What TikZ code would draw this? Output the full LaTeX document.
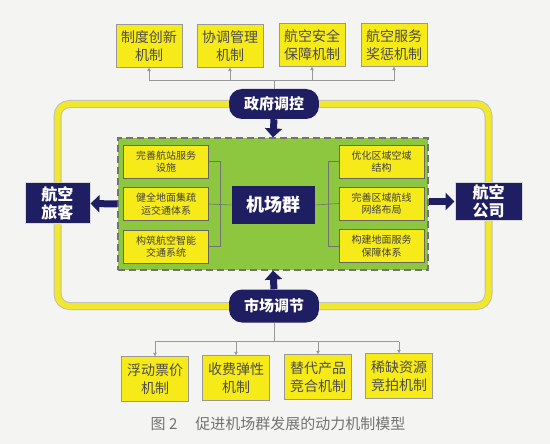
\documentclass[tikz,border=0pt]{standalone}
\usepackage{fontspec}
\setmainfont{Noto Sans CJK SC}
\usepackage{tikz}
\usetikzlibrary{arrows.meta}
\definecolor{navy}{RGB}{32,30,98}
\definecolor{boxyellow}{RGB}{246,234,24}
\definecolor{ringyellow}{RGB}{240,232,40}
\definecolor{hubgreen}{RGB}{141,198,63}
\definecolor{paper}{RGB}{244,244,242}

\begin{document}
\begin{tikzpicture}[x=1pt, y=-1pt,
  mech/.style={draw=black!40, fill=boxyellow, minimum width=66pt, minimum height=43pt, inner sep=1pt, align=center, text=black!70, font=\fontsize{14}{17.5}\selectfont},
  measure/.style={draw=black!60, fill=boxyellow, minimum width=85pt, minimum height=33pt, inner sep=1pt, align=center, text=black!75, font=\fontsize{10}{12.5}\selectfont},
  actor/.style={draw=black!15, line width=1pt, fill=navy, text=white, align=center, inner sep=1pt, font=\bfseries\fontsize{16}{17.5}\selectfont},
  pill/.style={fill=navy, text=white, rounded corners=13pt, minimum width=90pt, inner sep=1pt, font=\bfseries\fontsize{15}{18}\selectfont},
  link/.style={draw=black!40, line width=0.8pt},
  bracket/.style={draw=black!55, line width=0.6pt},
  tip/.style={-{Triangle[length=3.5pt,width=3.5pt]}},
  bigarrow/.style={navy, line width=7pt, -{Triangle[length=9pt,width=17pt]}},
  ring/.style={draw=black!25, line width=1pt, double=ringyellow, double distance=6pt, rounded corners=12pt}
]
\fill[paper] (0,0) rectangle (550,444);
\useasboundingbox (0,0) rectangle (550,444);

\node[mech] (t1) at (149,46) {制度创新\\机制};
\node[mech] (t2) at (230,46) {协调管理\\机制};
\node[mech] (t3) at (312,45) {航空安全\\保障机制};
\node[mech] (t4) at (394,45) {航空服务\\奖惩机制};

\node[pill, minimum height=30pt] (gov) at (274,104) {政府调控};
\node[pill, minimum height=33pt] (mkt) at (274,306) {市场调节};

\node[fill=hubgreen, draw=black!55, line width=1.2pt, dash pattern=on 7pt off 4pt, minimum width=310pt, minimum height=132pt] (group) at (273,204) {};

\node[measure] (l1) at (166,161.5) {完善航站服务\\设施};
\node[measure] (l2) at (166,204) {健全地面集疏\\运交通体系};
\node[measure] (l3) at (166,246.5) {构筑航空智能\\交通系统};
\node[measure] (r1) at (381.5,161.5) {优化区域空域\\结构};
\node[measure] (r2) at (381.5,203.5) {完善区域航线\\网络布局};
\node[measure] (r3) at (381.5,246) {构建地面服务\\保障体系};
\node[actor, draw=none, minimum width=83pt, minimum height=38pt, font=\bfseries\fontsize{18}{20}\selectfont] (hub) at (273.5,205) {机场群};

\node[actor, minimum width=65pt, minimum height=41pt] (pass) at (57.5,203.5) {航空\\旅客};
\node[actor, minimum width=67pt, minimum height=38pt] (air) at (488.5,201.5) {航空\\公司};

\node[mech, minimum height=45pt, minimum width=67pt] (b1) at (155,379) {浮动票价\\机制};
\node[mech, minimum height=45pt, minimum width=67pt] (b2) at (236,378) {收费弹性\\机制};
\node[mech, minimum height=45pt, minimum width=67pt] (b3) at (318,377) {替代产品\\竞合机制};
\node[mech, minimum height=45pt, minimum width=67pt] (b4) at (399,376) {稀缺资源\\竞拍机制};

\node[text=black!55, font=\fontsize{15}{18}\selectfont] (cap) at (278,424) {图 2\hspace{1.2em}促进机场群发展的动力机制模型};

\draw[ring] (gov.west) -| (pass.north);
\draw[ring] (pass.south) |- (mkt.west);
\draw[ring] (gov.east) -| (air.north);
\draw[ring] (air.south) |- (mkt.east);

\draw[link] (gov.north) -- ++(0,-8) coordinate (tbus);
\draw[link] (t1.south |- tbus) -- (t4.south |- tbus);
\foreach \m in {t1,t2,t3,t4}
  \draw[link, tip] (\m.south |- tbus) -- (\m.south);
\draw[link] (mkt.south) -- ++(0,19) coordinate (bbus);
\draw[link] (b1.north |- bbus) -- (b4.north |- bbus);
\foreach \m in {b1,b2,b3,b4}
  \draw[link, tip] (\m.north |- bbus) -- (\m.north);

\draw[bracket] (l1.east) -- ++(12,0) |- (l3.east);
\draw[bracket] (l2.east) -- (hub.west);
\draw[bracket] (r1.west) -- ++(-11,0) |- (r3.west);
\draw[bracket] (r2.west) -- (hub.east);

\draw[bigarrow] (gov.south) -- (group.north);
\draw[bigarrow] (mkt.north) -- (group.south);
\draw[bigarrow] (group.west) -- (pass.east);
\draw[bigarrow] (group.east |- air.west) -- (air.west);
\end{tikzpicture}
\end{document}
